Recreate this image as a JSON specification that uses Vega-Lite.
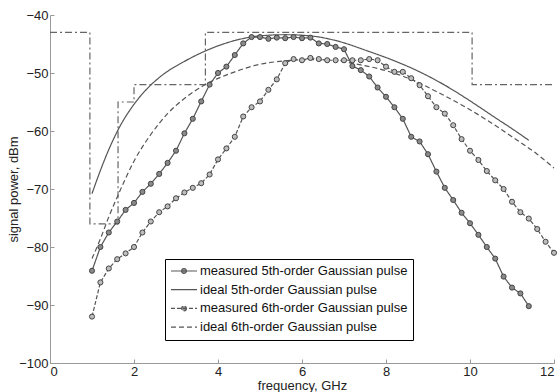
{
  "$schema": "https://vega.github.io/schema/vega-lite/v6.json",
  "width": 504,
  "height": 348,
  "autosize": {"type": "none"},
  "padding": {"left": 50, "top": 15, "right": 4, "bottom": 29},
  "background": "white",
  "config": {
    "font": "Liberation Sans",
    "view": {"stroke": null},
    "axis": {
      "labelFont": "Liberation Sans", "labelFontSize": 13, "labelColor": "#222",
      "titleFont": "Liberation Sans", "titleFontSize": 13, "titleFontWeight": "normal", "titleColor": "#222",
      "domainColor": "#999", "tickColor": "#999", "grid": false, "tickSize": -4
    }
  },
  "datasets": {
    "mask": [
      {"f": 0, "p": -43}, {"f": 0.95, "p": -76}, {"f": 1.62, "p": -55}, {"f": 2.0, "p": -52},
      {"f": 3.7, "p": -43}, {"f": 10.05, "p": -52}, {"f": 12, "p": -52}
    ],
    "ideal": [
      {"series": "ideal 5th-order Gaussian pulse", "f": 1.0, "p": -70.8},
      {"series": "ideal 5th-order Gaussian pulse", "f": 1.2, "p": -66.8},
      {"series": "ideal 5th-order Gaussian pulse", "f": 1.4, "p": -63.2},
      {"series": "ideal 5th-order Gaussian pulse", "f": 1.65, "p": -59.4},
      {"series": "ideal 5th-order Gaussian pulse", "f": 2.0, "p": -55.4},
      {"series": "ideal 5th-order Gaussian pulse", "f": 2.3, "p": -52.8},
      {"series": "ideal 5th-order Gaussian pulse", "f": 2.65, "p": -50.5},
      {"series": "ideal 5th-order Gaussian pulse", "f": 3.2, "p": -48.0},
      {"series": "ideal 5th-order Gaussian pulse", "f": 3.7, "p": -46.2},
      {"series": "ideal 5th-order Gaussian pulse", "f": 4.4, "p": -44.4},
      {"series": "ideal 5th-order Gaussian pulse", "f": 5.0, "p": -43.6},
      {"series": "ideal 5th-order Gaussian pulse", "f": 5.6, "p": -43.4},
      {"series": "ideal 5th-order Gaussian pulse", "f": 6.2, "p": -43.6},
      {"series": "ideal 5th-order Gaussian pulse", "f": 6.8, "p": -44.4},
      {"series": "ideal 5th-order Gaussian pulse", "f": 7.6, "p": -46.3},
      {"series": "ideal 5th-order Gaussian pulse", "f": 8.2, "p": -47.9},
      {"series": "ideal 5th-order Gaussian pulse", "f": 8.8, "p": -49.8},
      {"series": "ideal 5th-order Gaussian pulse", "f": 9.4, "p": -52.1},
      {"series": "ideal 5th-order Gaussian pulse", "f": 10.0, "p": -54.8},
      {"series": "ideal 5th-order Gaussian pulse", "f": 10.6, "p": -57.7},
      {"series": "ideal 5th-order Gaussian pulse", "f": 11.0, "p": -59.6},
      {"series": "ideal 5th-order Gaussian pulse", "f": 11.4, "p": -61.6},
      {"series": "ideal 6th-order Gaussian pulse", "f": 1.0, "p": -82.0},
      {"series": "ideal 6th-order Gaussian pulse", "f": 1.2, "p": -78.6},
      {"series": "ideal 6th-order Gaussian pulse", "f": 1.4, "p": -74.8},
      {"series": "ideal 6th-order Gaussian pulse", "f": 1.6, "p": -71.4},
      {"series": "ideal 6th-order Gaussian pulse", "f": 2.0, "p": -65.2},
      {"series": "ideal 6th-order Gaussian pulse", "f": 2.4, "p": -60.6},
      {"series": "ideal 6th-order Gaussian pulse", "f": 2.8, "p": -57.0},
      {"series": "ideal 6th-order Gaussian pulse", "f": 3.2, "p": -54.4},
      {"series": "ideal 6th-order Gaussian pulse", "f": 3.7, "p": -52.0},
      {"series": "ideal 6th-order Gaussian pulse", "f": 4.4, "p": -49.8},
      {"series": "ideal 6th-order Gaussian pulse", "f": 5.0, "p": -48.5},
      {"series": "ideal 6th-order Gaussian pulse", "f": 5.6, "p": -47.9},
      {"series": "ideal 6th-order Gaussian pulse", "f": 6.2, "p": -47.7},
      {"series": "ideal 6th-order Gaussian pulse", "f": 6.8, "p": -47.9},
      {"series": "ideal 6th-order Gaussian pulse", "f": 7.4, "p": -48.6},
      {"series": "ideal 6th-order Gaussian pulse", "f": 8.0, "p": -49.6},
      {"series": "ideal 6th-order Gaussian pulse", "f": 8.6, "p": -51.1},
      {"series": "ideal 6th-order Gaussian pulse", "f": 9.2, "p": -53.2},
      {"series": "ideal 6th-order Gaussian pulse", "f": 9.8, "p": -55.5},
      {"series": "ideal 6th-order Gaussian pulse", "f": 10.4, "p": -58.1},
      {"series": "ideal 6th-order Gaussian pulse", "f": 11.0, "p": -61.0},
      {"series": "ideal 6th-order Gaussian pulse", "f": 11.6, "p": -64.0},
      {"series": "ideal 6th-order Gaussian pulse", "f": 12.0, "p": -66.4}
    ],
    "measured": [
      {"series": "measured 5th-order Gaussian pulse", "f": 1.0, "p": -84.1},
      {"series": "measured 5th-order Gaussian pulse", "f": 1.2, "p": -80.0},
      {"series": "measured 5th-order Gaussian pulse", "f": 1.4, "p": -77.5},
      {"series": "measured 5th-order Gaussian pulse", "f": 1.6, "p": -75.6},
      {"series": "measured 5th-order Gaussian pulse", "f": 1.8, "p": -73.6},
      {"series": "measured 5th-order Gaussian pulse", "f": 2.0, "p": -72.4},
      {"series": "measured 5th-order Gaussian pulse", "f": 2.2, "p": -70.5},
      {"series": "measured 5th-order Gaussian pulse", "f": 2.4, "p": -69.1},
      {"series": "measured 5th-order Gaussian pulse", "f": 2.6, "p": -67.4},
      {"series": "measured 5th-order Gaussian pulse", "f": 2.8, "p": -65.5},
      {"series": "measured 5th-order Gaussian pulse", "f": 3.0, "p": -63.4},
      {"series": "measured 5th-order Gaussian pulse", "f": 3.2, "p": -60.4},
      {"series": "measured 5th-order Gaussian pulse", "f": 3.4, "p": -57.9},
      {"series": "measured 5th-order Gaussian pulse", "f": 3.6, "p": -54.9},
      {"series": "measured 5th-order Gaussian pulse", "f": 3.8, "p": -52.0},
      {"series": "measured 5th-order Gaussian pulse", "f": 4.0, "p": -50.0},
      {"series": "measured 5th-order Gaussian pulse", "f": 4.2, "p": -48.9},
      {"series": "measured 5th-order Gaussian pulse", "f": 4.4, "p": -46.9},
      {"series": "measured 5th-order Gaussian pulse", "f": 4.6, "p": -44.9},
      {"series": "measured 5th-order Gaussian pulse", "f": 4.8, "p": -43.8},
      {"series": "measured 5th-order Gaussian pulse", "f": 5.0, "p": -43.8},
      {"series": "measured 5th-order Gaussian pulse", "f": 5.2, "p": -44.1},
      {"series": "measured 5th-order Gaussian pulse", "f": 5.4, "p": -43.9},
      {"series": "measured 5th-order Gaussian pulse", "f": 5.6, "p": -44.0},
      {"series": "measured 5th-order Gaussian pulse", "f": 5.8, "p": -43.8},
      {"series": "measured 5th-order Gaussian pulse", "f": 6.0, "p": -44.0},
      {"series": "measured 5th-order Gaussian pulse", "f": 6.2, "p": -43.9},
      {"series": "measured 5th-order Gaussian pulse", "f": 6.4, "p": -44.9},
      {"series": "measured 5th-order Gaussian pulse", "f": 6.6, "p": -45.0},
      {"series": "measured 5th-order Gaussian pulse", "f": 6.8, "p": -45.5},
      {"series": "measured 5th-order Gaussian pulse", "f": 7.0, "p": -45.9},
      {"series": "measured 5th-order Gaussian pulse", "f": 7.2, "p": -48.8},
      {"series": "measured 5th-order Gaussian pulse", "f": 7.4, "p": -49.5},
      {"series": "measured 5th-order Gaussian pulse", "f": 7.6, "p": -50.6},
      {"series": "measured 5th-order Gaussian pulse", "f": 7.8, "p": -52.5},
      {"series": "measured 5th-order Gaussian pulse", "f": 8.0, "p": -54.1},
      {"series": "measured 5th-order Gaussian pulse", "f": 8.2, "p": -55.9},
      {"series": "measured 5th-order Gaussian pulse", "f": 8.4, "p": -57.9},
      {"series": "measured 5th-order Gaussian pulse", "f": 8.6, "p": -61.0},
      {"series": "measured 5th-order Gaussian pulse", "f": 8.8, "p": -61.8},
      {"series": "measured 5th-order Gaussian pulse", "f": 9.0, "p": -64.0},
      {"series": "measured 5th-order Gaussian pulse", "f": 9.2, "p": -67.0},
      {"series": "measured 5th-order Gaussian pulse", "f": 9.4, "p": -69.8},
      {"series": "measured 5th-order Gaussian pulse", "f": 9.6, "p": -71.9},
      {"series": "measured 5th-order Gaussian pulse", "f": 9.8, "p": -74.1},
      {"series": "measured 5th-order Gaussian pulse", "f": 10.0, "p": -75.9},
      {"series": "measured 5th-order Gaussian pulse", "f": 10.2, "p": -77.9},
      {"series": "measured 5th-order Gaussian pulse", "f": 10.4, "p": -80.0},
      {"series": "measured 5th-order Gaussian pulse", "f": 10.6, "p": -82.0},
      {"series": "measured 5th-order Gaussian pulse", "f": 10.8, "p": -85.1},
      {"series": "measured 5th-order Gaussian pulse", "f": 11.0, "p": -87.0},
      {"series": "measured 5th-order Gaussian pulse", "f": 11.2, "p": -88.0},
      {"series": "measured 5th-order Gaussian pulse", "f": 11.4, "p": -90.2},
      {"series": "measured 6th-order Gaussian pulse", "f": 1.0, "p": -92.0},
      {"series": "measured 6th-order Gaussian pulse", "f": 1.2, "p": -86.1},
      {"series": "measured 6th-order Gaussian pulse", "f": 1.4, "p": -83.7},
      {"series": "measured 6th-order Gaussian pulse", "f": 1.6, "p": -82.1},
      {"series": "measured 6th-order Gaussian pulse", "f": 1.8, "p": -81.1},
      {"series": "measured 6th-order Gaussian pulse", "f": 2.0, "p": -80.0},
      {"series": "measured 6th-order Gaussian pulse", "f": 2.2, "p": -77.5},
      {"series": "measured 6th-order Gaussian pulse", "f": 2.4, "p": -75.6},
      {"series": "measured 6th-order Gaussian pulse", "f": 2.6, "p": -74.0},
      {"series": "measured 6th-order Gaussian pulse", "f": 2.8, "p": -73.0},
      {"series": "measured 6th-order Gaussian pulse", "f": 3.0, "p": -71.6},
      {"series": "measured 6th-order Gaussian pulse", "f": 3.2, "p": -70.6},
      {"series": "measured 6th-order Gaussian pulse", "f": 3.4, "p": -69.8},
      {"series": "measured 6th-order Gaussian pulse", "f": 3.6, "p": -69.0},
      {"series": "measured 6th-order Gaussian pulse", "f": 3.8, "p": -67.5},
      {"series": "measured 6th-order Gaussian pulse", "f": 4.0, "p": -64.9},
      {"series": "measured 6th-order Gaussian pulse", "f": 4.2, "p": -63.0},
      {"series": "measured 6th-order Gaussian pulse", "f": 4.4, "p": -61.0},
      {"series": "measured 6th-order Gaussian pulse", "f": 4.6, "p": -57.5},
      {"series": "measured 6th-order Gaussian pulse", "f": 4.8, "p": -55.9},
      {"series": "measured 6th-order Gaussian pulse", "f": 5.0, "p": -54.9},
      {"series": "measured 6th-order Gaussian pulse", "f": 5.2, "p": -52.9},
      {"series": "measured 6th-order Gaussian pulse", "f": 5.4, "p": -51.1},
      {"series": "measured 6th-order Gaussian pulse", "f": 5.6, "p": -48.3},
      {"series": "measured 6th-order Gaussian pulse", "f": 5.8, "p": -47.6},
      {"series": "measured 6th-order Gaussian pulse", "f": 6.0, "p": -47.8},
      {"series": "measured 6th-order Gaussian pulse", "f": 6.2, "p": -47.4},
      {"series": "measured 6th-order Gaussian pulse", "f": 6.4, "p": -47.6},
      {"series": "measured 6th-order Gaussian pulse", "f": 6.6, "p": -47.8},
      {"series": "measured 6th-order Gaussian pulse", "f": 6.8, "p": -47.8},
      {"series": "measured 6th-order Gaussian pulse", "f": 7.0, "p": -47.8},
      {"series": "measured 6th-order Gaussian pulse", "f": 7.2, "p": -47.8},
      {"series": "measured 6th-order Gaussian pulse", "f": 7.4, "p": -47.8},
      {"series": "measured 6th-order Gaussian pulse", "f": 7.6, "p": -47.6},
      {"series": "measured 6th-order Gaussian pulse", "f": 7.8, "p": -47.8},
      {"series": "measured 6th-order Gaussian pulse", "f": 8.0, "p": -48.9},
      {"series": "measured 6th-order Gaussian pulse", "f": 8.2, "p": -49.8},
      {"series": "measured 6th-order Gaussian pulse", "f": 8.4, "p": -49.8},
      {"series": "measured 6th-order Gaussian pulse", "f": 8.6, "p": -50.9},
      {"series": "measured 6th-order Gaussian pulse", "f": 8.8, "p": -52.1},
      {"series": "measured 6th-order Gaussian pulse", "f": 9.0, "p": -54.0},
      {"series": "measured 6th-order Gaussian pulse", "f": 9.2, "p": -55.9},
      {"series": "measured 6th-order Gaussian pulse", "f": 9.4, "p": -57.0},
      {"series": "measured 6th-order Gaussian pulse", "f": 9.6, "p": -59.0},
      {"series": "measured 6th-order Gaussian pulse", "f": 9.8, "p": -61.4},
      {"series": "measured 6th-order Gaussian pulse", "f": 10.0, "p": -63.4},
      {"series": "measured 6th-order Gaussian pulse", "f": 10.2, "p": -65.0},
      {"series": "measured 6th-order Gaussian pulse", "f": 10.4, "p": -66.9},
      {"series": "measured 6th-order Gaussian pulse", "f": 10.6, "p": -68.5},
      {"series": "measured 6th-order Gaussian pulse", "f": 10.8, "p": -70.0},
      {"series": "measured 6th-order Gaussian pulse", "f": 11.0, "p": -72.2},
      {"series": "measured 6th-order Gaussian pulse", "f": 11.2, "p": -74.0},
      {"series": "measured 6th-order Gaussian pulse", "f": 11.4, "p": -75.1},
      {"series": "measured 6th-order Gaussian pulse", "f": 11.6, "p": -76.9},
      {"series": "measured 6th-order Gaussian pulse", "f": 11.8, "p": -79.1},
      {"series": "measured 6th-order Gaussian pulse", "f": 12.0, "p": -81.0}
    ]
  },
  "encoding": {
    "x": {
      "field": "f", "type": "quantitative",
      "scale": {"domain": [0, 12], "nice": false, "zero": false},
      "axis": {"title": "frequency, GHz", "values": [0, 2, 4, 6, 8, 10, 12], "labelPadding": 6,
               "titleX": 252, "titleY": 22.5, "titleBaseline": "middle", "titleAnchor": null}
    },
    "y": {
      "field": "p", "type": "quantitative",
      "scale": {"domain": [-100, -40], "nice": false, "zero": false},
      "axis": {"title": "signal power, dBm", "values": [-100, -90, -80, -70, -60, -50, -40], "labelPadding": 6,
               "titleX": -37, "titleY": 174, "titleBaseline": "middle", "titleAngle": -90}
    }
  },
  "layer": [
    {
      "data": {"name": "mask"},
      "mark": {"type": "line", "interpolate": "step-after", "color": "#666", "strokeWidth": 1.2, "strokeDash": [7, 3, 2, 3]},
      "encoding": {}
    },
    {
      "data": {"name": "ideal"},
      "mark": {"type": "line", "interpolate": "monotone", "color": "#555", "strokeWidth": 1.2},
      "encoding": {
        "strokeDash": {
          "field": "series", "type": "nominal",
          "scale": {
            "domain": ["measured 5th-order Gaussian pulse", "ideal 5th-order Gaussian pulse", "measured 6th-order Gaussian pulse", "ideal 6th-order Gaussian pulse"],
            "range": [[1, 0], [1, 0], [4, 2], [5, 3]]
          },
          "legend": {
            "title": null, "orient": "none", "legendX": 115, "legendY": 244,
            "strokeColor": "#000", "fillColor": "white", "padding": 5,
            "symbolType": "stroke", "symbolSize": 144, "symbolOffset": 7, "symbolStrokeColor": "#555", "symbolStrokeWidth": 1.2,
            "labelFont": "Liberation Sans", "labelFontSize": 13, "labelColor": "#111", "labelOffset": 9, "labelLimit": 400, "rowPadding": 4.7,
            "encode": {
              "symbols": {
                "update": {
                  "shape": {"signal": "indexof(datum.value,'measured')===0 ? 'M-2.17,0H2.17M0.4,0A0.4,0.4,0,1,1,-0.4,0A0.4,0.4,0,1,1,0.4,0Z' : 'M-2.17,0H2.17'"},
                  "fill": {"signal": "indexof(datum.value,'measured')===0 ? '#999' : 'transparent'"},
                  "stroke": {"value": "#555"},
                  "strokeWidth": {"value": 1.2}
                }
              }
            }
          }
        }
      }
    },
    {
      "data": {"name": "measured"},
      "mark": {"type": "line", "color": "#555", "strokeWidth": 1.2},
      "encoding": {
        "strokeDash": {"field": "series", "type": "nominal"}
      }
    },
    {
      "data": {"name": "measured"},
      "mark": {"type": "point", "shape": "circle", "size": 26, "stroke": "#444", "strokeWidth": 1, "opacity": 1, "filled": false},
      "encoding": {
        "fill": {
          "field": "series", "type": "nominal",
          "scale": {"domain": ["measured 5th-order Gaussian pulse", "measured 6th-order Gaussian pulse"], "range": ["#8a8a8a", "#bdbdbd"]},
          "legend": null
        }
      }
    }
  ]
}
